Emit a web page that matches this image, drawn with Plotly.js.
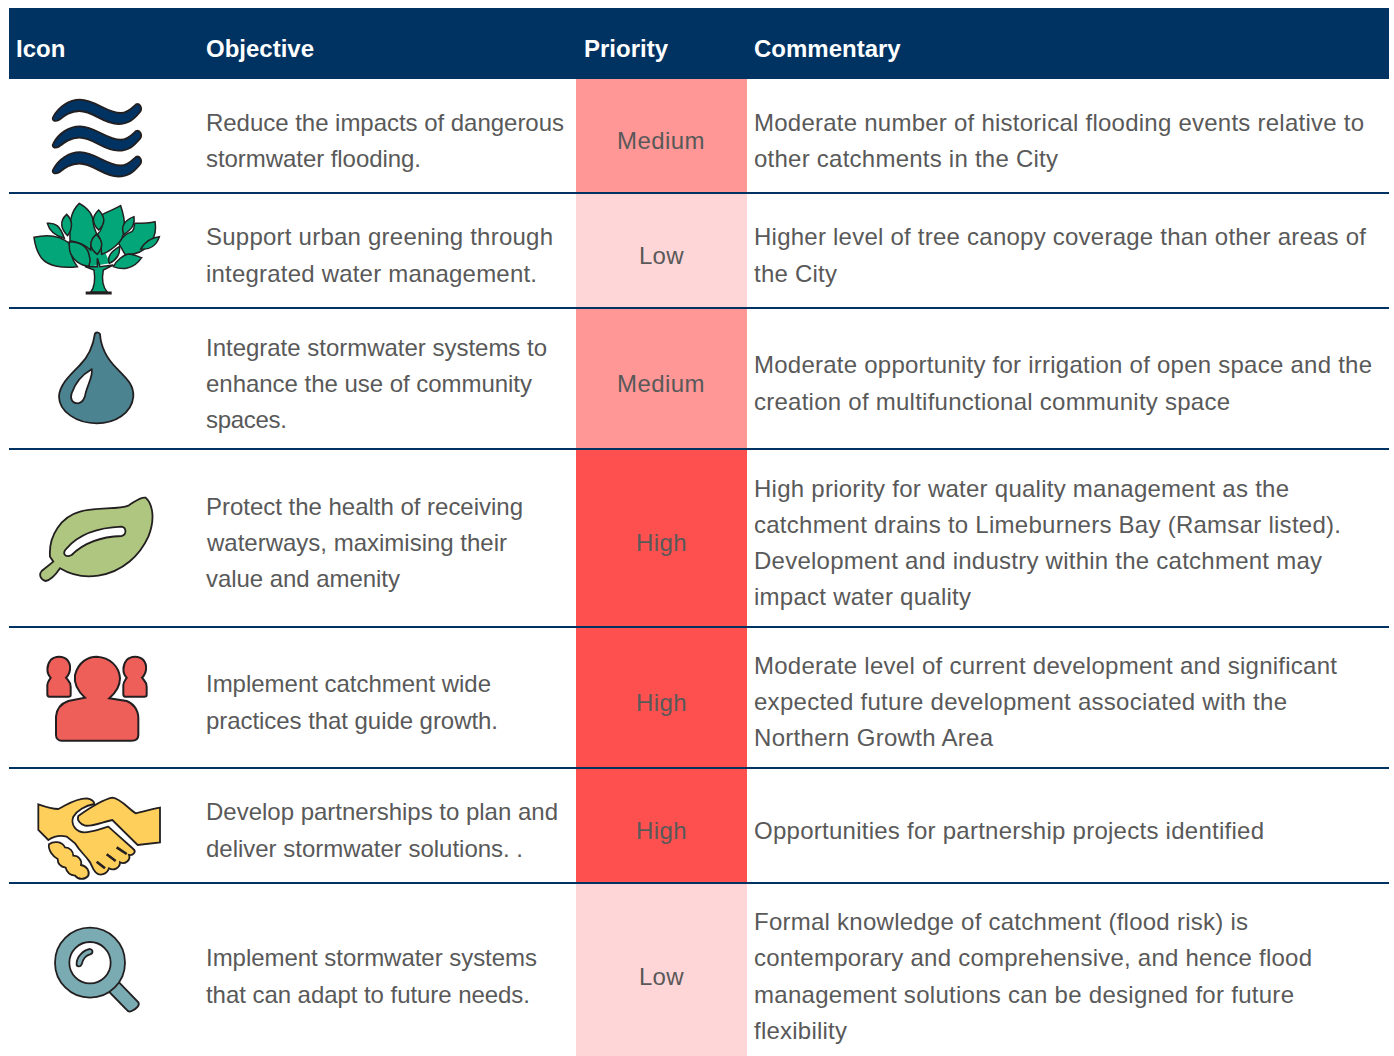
<!DOCTYPE html>
<html><head><meta charset="utf-8">
<script src="https://cdn.plot.ly/plotly-3.0.1.min.js"></script>
<style>html,body{margin:0;padding:0;background:#fff;overflow:hidden}</style>
</head><body><div id="chart" style="width:1394px;height:1056px"></div>
<script>
// ---- table data ----
const headers = ["Icon","Objective","Priority","Commentary"];
const headerX = [15,205,583,753];
const rowBottoms = [193,308,449,627,768,883,1056];
const priorities = ["Medium","Low","Medium","High","High","High","Low"];
const priorityCentres = [140,255,383,542,702,830,976];
const objectives = [
 ["Reduce the impacts of dangerous","stormwater flooding."],
 ["Support urban greening through","integrated water management."],
 ["Integrate stormwater systems to","enhance the use of community","spaces."],
 ["Protect the health of receiving","waterways, maximising their","value and amenity"],
 ["Implement catchment wide","practices that guide growth."],
 ["Develop partnerships to plan and","deliver stormwater solutions. ."],
 ["Implement stormwater systems","that can adapt to future needs."]
];
const objectiveY = [[122,158],[236,273],[347,383,419],[506,542,578],[683,720],[811,848],[957,994]];
const objectiveEnd = [[564,421],[553,537],[547,532,287],[523,506,400],[491,498],[558,523],[537,530]];
const commentary = [
 ["Moderate number of historical flooding events relative to","other catchments in the City"],
 ["Higher level of tree canopy coverage than other areas of","the City"],
 ["Moderate opportunity for irrigation of open space and the","creation of multifunctional community space"],
 ["High priority for water quality management as the","catchment drains to Limeburners Bay (Ramsar listed).","Development and industry within the catchment may","impact water quality"],
 ["Moderate level of current development and significant","expected future development associated with the","Northern Growth Area"],
 ["Opportunities for partnership projects identified"],
 ["Formal knowledge of catchment (flood risk) is","contemporary and comprehensive, and hence flood","management solutions can be designed for future","flexibility"]
];
const commentaryY = [[122,158],[236,273],[364,401],[488,524,560,596],[665,701,737],[830],[921,957,994,1030]];
const commentaryEnd = [[1364,1058],[1366,837],[1372,1230],[1289,1341,1322,971],[1337,1287,993],[1264],[1248,1312,1294,847]];
const priorityStart = {Medium:615.5,Low:637.5,High:634.5};
const priorityEnd = {Medium:703,Low:682,High:685};

// ---- styling ----
const NAVY="#003262", TEXT="#595959", INK="#231f20";
const FONT="Liberation Sans, Arial, sans-serif";
const priorityColor={Low:"#ffd6d8",Medium:"#ff9797",High:"#ff5050"};
const SIZE=24;

// ---- icon outlines, drawn in 3x local space then placed ----
function place(d,ox,oy){return d.replace(/(-?[\d.]+),(-?[\d.]+)/g,(m,a,b)=>((+a)/3+ox).toFixed(2)+","+((+b)/3+oy).toFixed(2));}
const shapes=[];
function blob(d,ox,oy,fill,w,stroke){shapes.push({type:"path",path:place(d,ox,oy),xref:"x",yref:"y",fillcolor:fill,line:{color:stroke||INK,width:w==null?1.8:w},layer:"above"});}
function disc(cx,cy,r,ox,oy,fill,w){shapes.push({type:"circle",xref:"x",yref:"y",x0:cx/3+ox-r/3,x1:cx/3+ox+r/3,y0:cy/3+oy-r/3,y1:cy/3+oy+r/3,fillcolor:fill,line:{color:INK,width:w==null?1.8:w},layer:"above"});}

// waves
const wave="M160,350 C176,320 207,299 240,299 C285,299 320,339 362,339 C385,339 398,322 408,313 C420,308 428,325 420,336 C400,360 385,372 355,372 C310,372 280,333 238,333 C212,333 195,346 178,359 C163,367 154,360 160,350 Z";
[0,26.7,52.5].forEach(dy=>blob(wave,0,dy,NAVY,1.8));

// tree
const GREEN="#03a678";
blob("M200,160 L250,160 L270,205 L205,215 Z",20,195,GREEN,0,GREEN);
const tree=[
"M232,190 L240,215 L280,210 L250,225 C245,250 248,275 262,292 L212,292 C225,275 225,245 222,225 L195,215 L232,215 Z",
"M82,85 C105,83 120,90 133,130 C115,125 90,115 82,85 Z",
"M178,25 C205,40 220,60 220,85 C222,105 235,120 228,120 C215,130 212,150 212,165 C195,150 175,140 150,137 C150,100 145,55 178,25 Z",
"M302,32 C315,70 320,110 300,140 C290,150 270,170 245,178 C242,150 245,130 232,118 C248,105 250,85 245,60 C265,48 285,42 302,32 Z",
"M405,80 C410,110 405,130 385,150 C365,175 340,180 315,178 L296,145 C310,125 315,118 330,112 C345,110 342,85 345,85 C365,85 385,85 405,80 Z",
"M42,127 C80,118 120,122 148,145 C150,175 160,200 172,215 C130,220 85,215 65,190 C50,170 45,150 42,127 Z",
"M140,58 C155,72 162,95 143,122 C125,105 115,80 140,58 Z",
"M236,45 C255,65 258,85 236,105 C215,85 215,65 236,45 Z",
"M229,118 C250,140 250,155 232,178 C208,160 205,140 229,118 Z",
"M148,140 C180,140 205,155 208,185 C215,200 205,205 208,214 C180,212 158,195 150,170 C147,160 148,150 148,140 Z",
"M342,65 C345,85 340,100 312,118 C300,95 315,75 342,65 Z",
"M298,155 C302,175 290,195 268,205 C260,185 272,170 298,155 Z",
"M365,188 C340,225 305,225 280,215 C290,195 310,180 325,177 C340,178 355,185 365,188 Z",
"M418,125 C410,150 390,165 362,162 C375,140 390,128 418,125 Z"
];
tree.forEach(d=>blob(d,20,195,GREEN,1.5));
blob("M197,294 L275,294",20,195,"rgba(0,0,0,0)",3);

// drop
blob("M195,40 C200,36 208,37 210,42 C212,75 225,110 260,145 C290,175 312,195 310,230 C305,280 255,310 200,310 C140,310 88,275 87,230 C88,195 120,165 150,135 C180,105 190,75 195,40 Z",30,320,"#4b8391");
blob("M185,148 C190,165 175,190 168,215 C165,235 160,248 145,250 C125,250 120,235 125,220 C135,190 155,165 185,148 Z",30,320,"#ffffff");

// leaf
blob("M75,215 C70,150 110,95 165,80 C210,65 280,75 310,62 C330,50 345,35 362,38 C385,60 390,105 370,155 C345,210 295,260 220,272 C170,280 130,265 105,250 C95,265 80,285 62,288 C48,285 40,270 50,258 L85,230 Z",25,485,"#aec67f");
blob("M125,190 C160,150 210,128 290,125 C305,128 305,150 290,153 C230,155 180,170 140,210 C120,220 110,205 125,190 Z",25,485,"#ffffff");

// people
const small="M62,98 C48,85 50,60 62,45 C75,32 100,32 112,45 C125,60 122,85 108,98 C115,108 122,110 122,125 L122,150 C122,153 118,155 115,155 L58,155 C54,155 52,152 52,148 L52,120 C53,110 58,105 62,98 Z";
blob(small,30,645,"#ef5f5a",2);
blob(small,30+76,645,"#ef5f5a",2);
blob("M165,158 C140,135 132,110 135,90 C145,50 175,35 200,35 C240,37 268,65 270,100 C270,125 255,145 238,160 L290,168 C310,175 325,195 325,220 L325,270 C325,280 318,287 305,287 L95,287 C85,287 78,280 78,270 L78,215 C80,190 95,175 115,168 Z",30,645,"#ef5f5a",2);

// handshake
const Y="#ffcf5c";
const fingers="M72,178 C85,168 110,168 120,187 C135,187 145,200 145,212 C160,212 172,225 168,240 C185,242 195,260 190,272 C180,285 160,285 150,272 C135,270 125,260 122,248 C105,245 98,235 98,222 C85,215 68,195 72,178 Z";
blob("M40,58 C60,65 85,72 100,72 C125,60 150,40 185,40 C200,42 208,50 208,57 C180,62 155,78 145,95 C135,120 155,142 178,142 C200,142 230,130 250,125 L325,192 C335,200 325,212 312,210 C318,225 300,240 285,232 C285,250 265,258 252,250 C245,268 225,275 212,262 C200,250 200,235 190,225 C180,210 165,200 150,175 L125,155 C105,150 85,155 70,165 L40,135 Z",25,785,Y);
blob("M160,93 C195,68 230,45 262,38 C285,40 310,70 332,85 C355,80 380,72 405,68 L405,172 L338,180 L262,105 C235,110 205,125 180,122 C165,118 155,105 160,93 Z",25,785,Y);
blob(fingers,25,785,"#ffffff",5,"#ffffff");
blob(fingers,25,785,Y);
["M215,230 L240,250","M245,208 L272,228","M275,187 L305,207"].forEach(d=>blob(d,25,785,"rgba(0,0,0,0)",2.6));

// magnifier
const M="#7aabb3";
blob("M235,200 L295,262 C300,270 292,280 275,288 C268,292 262,288 258,282 L205,228 Z",40,915,M);
disc(150,143,105,40,915,M);
disc(150,143,62,40,915,"#ffffff");
blob("M110,145 C110,125 130,105 150,102 C160,105 160,115 150,118 C135,122 128,135 125,148 C120,158 108,155 110,145 Z",40,915,M);

// row rules
rowBottoms.slice(0,-1).forEach(y=>shapes.push({type:"line",xref:"x",yref:"y",x0:9,x1:1389,y0:y,y1:y,line:{color:NAVY,width:2},layer:"above"}));

// ---- traces: header band and priority cells as bars ----
const rowTops=[79].concat(rowBottoms.slice(0,-1));
const traces=[
 {type:"bar",x:[699],y:[71],base:[8],width:[1380],marker:{color:NAVY,line:{width:0}},hoverinfo:"skip"},
 {type:"bar",x:priorities.map(()=>661.5),y:rowBottoms.map((b,i)=>b-rowTops[i]),base:rowTops,width:priorities.map(()=>171),
  marker:{color:priorities.map(p=>priorityColor[p]),line:{width:0}},hoverinfo:"skip"}
];

// ---- text ----
const notes=[], fit=[];
function label(x,y,t,bold,end){if(end)fit[notes.length]=end-x;notes.push({x,y,text:bold?"<b>"+t+"</b>":t,xref:"x",yref:"y",xanchor:"left",yanchor:"middle",showarrow:false,align:"left",borderpad:0,
  font:{family:FONT,size:SIZE,color:bold?"#ffffff":TEXT}});}
headers.forEach((h,i)=>label(headerX[i],48.5,h,true));
objectives.forEach((ls,r)=>ls.forEach((t,j)=>label(204.5,objectiveY[r][j],t,false,objectiveEnd[r][j]-1.5)));
commentary.forEach((ls,r)=>ls.forEach((t,j)=>label(753,commentaryY[r][j],t,false,commentaryEnd[r][j]-1)));
priorities.forEach((p,r)=>label(priorityStart[p],priorityCentres[r],p,false,priorityEnd[p]));

Plotly.newPlot("chart",traces,{
 width:1394,height:1056,margin:{l:0,r:0,t:0,b:0,pad:0},
 paper_bgcolor:"#fff",plot_bgcolor:"#fff",showlegend:false,barmode:"overlay",
 xaxis:{range:[0,1394],visible:false,fixedrange:true},
 yaxis:{range:[1056,0],visible:false,fixedrange:true},
 shapes,annotations:notes,font:{family:FONT}
},{displayModeBar:false,staticPlot:true}).then(gd=>{
 // match the reference's slightly looser text setting, line by line
 gd.querySelectorAll(".annotation").forEach(a=>{
  const i=+a.getAttribute("data-index"), want=fit[i]; if(!want)return;
  const t=a.querySelector("text"), n=t.textContent.length;
  const w=t.getComputedTextLength();
  t.style.letterSpacing=((want-w)/(n-1)).toFixed(3)+"px";
 });
});
</script></body></html>
